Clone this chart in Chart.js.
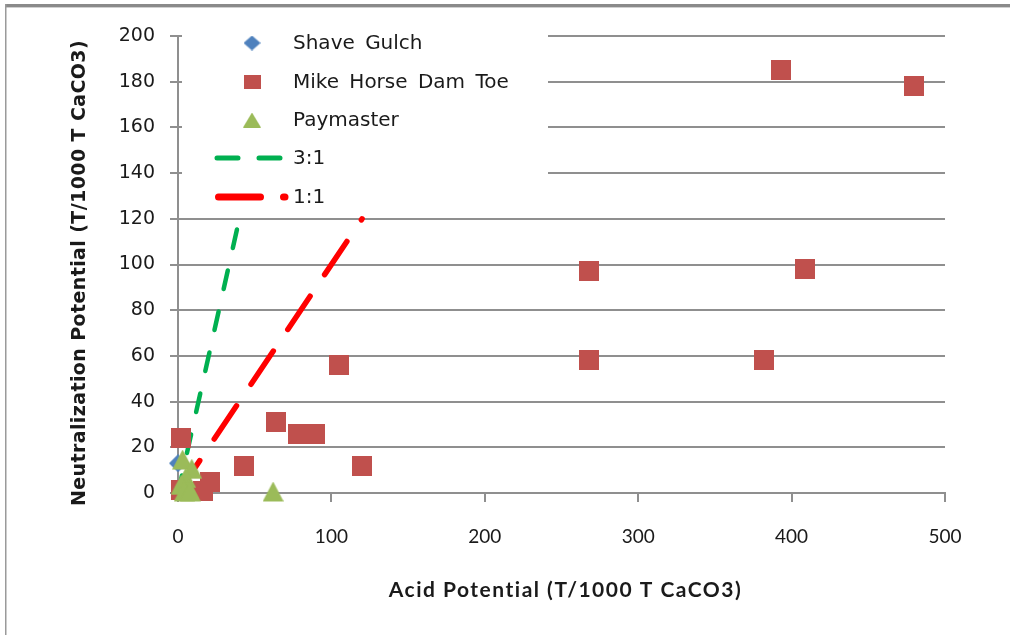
<!DOCTYPE html>
<html>
<head>
<meta charset="utf-8">
<script src="https://cdn.jsdelivr.net/npm/chart.js@4.4.1/dist/chart.umd.min.js"></script>
<style>
  html, body { margin: 0; padding: 0; background: #ffffff; }
  #wrap { position: relative; width: 1010px; height: 635px; }
  canvas { display: block; }
</style>
</head>
<body>
<div id="wrap"><canvas id="chart" width="1010" height="635"></canvas></div>
<script>
// Acid potential (AP) vs neutralization potential (NP), T/1000 T CaCO3
const seriesNames = ['Shave Gulch', 'Mike Horse Dam Toe', 'Paymaster', '3:1', '1:1'];

const shaveGulchAP = [0, 2, 5];
const shaveGulchNP = [13, 3, 1];

const mikeHorseAP = [393, 480, 268, 409, 268, 382, 105, 64, 78, 89, 43, 120, 2, 21, 16, 2];
const mikeHorseNP = [185, 178, 97, 98, 58, 58, 56, 31, 26, 26, 12, 12, 24, 5, 1, 1.5];

const paymasterAP = [3, 9, 5, 2, 7, 4, 8, 62];
const paymasterNP = [14, 10, 6, 3, 1, 0, 0, 0];

// NP:AP reference ratios
const ratio31AP = [0, 40];
const ratio31NP = [0, 120];
const ratio11AP = [0, 120];
const ratio11NP = [0, 120];

const xTickValues = [0, 100, 200, 300, 400, 500];
const yTickValues = [0, 20, 40, 60, 80, 100, 120, 140, 160, 180, 200];

const xTitle = 'Acid Potential (T/1000 T CaCO3)';
const yTitle = 'Neutralization Potential (T/1000 T CaCO3)';

const COLORS = {
  shave: '#4F81BD',
  mike: '#C0504D',
  pay: '#9BBB59',
  r31: '#00B050',
  r11: '#FF0000',
  grid: '#8f8f8f',
  text: '#1a1a1a'
};

function pairs(xs, ys) { return xs.map((x, i) => ({ x: x, y: ys[i] })); }

// marker sprites
function makeSprite(w, h, draw) {
  const c = document.createElement('canvas');
  c.width = w; c.height = h;
  draw(c.getContext('2d'), w, h);
  return c;
}
function triangleSprite(w, triH, totalH, color) {
  return makeSprite(w, totalH, (g) => {
    g.fillStyle = color;
    g.beginPath();
    g.moveTo(w / 2, 0); g.lineTo(w, triH); g.lineTo(0, triH); g.closePath();
    g.fill();
  });
}
function squareSprite(w, h, color) {
  return makeSprite(w, h, (g) => { g.fillStyle = color; g.fillRect(0, 0, w, h); });
}
function diamondSprite(w, h, color) {
  return makeSprite(w, h, (g) => {
    g.fillStyle = color;
    g.beginPath();
    g.moveTo(w / 2, 0); g.lineTo(w, h / 2); g.lineTo(w / 2, h); g.lineTo(0, h / 2); g.closePath();
    g.fill();
  });
}

const diamondPt = diamondSprite(18, 18, COLORS.shave);
const squarePt = squareSprite(20, 20, COLORS.mike);
const trianglePt = triangleSprite(21, 20, 23, COLORS.pay);

// page frame + white background
const framePlugin = {
  id: 'frame',
  beforeDraw(chart) {
    const ctx = chart.ctx;
    ctx.save();
    ctx.fillStyle = '#ffffff';
    ctx.fillRect(0, 0, chart.width, chart.height);
    ctx.fillStyle = '#8a8a8a';
    ctx.fillRect(5, 4, chart.width - 5, 3);
    ctx.fillStyle = '#d0d0d0';
    ctx.fillRect(5, 7, chart.width - 5, 1);
    ctx.fillStyle = '#9a9a9a';
    ctx.fillRect(5, 4, 1.5, chart.height - 4);
    ctx.restore();
  }
};

// axis titles
const titlesPlugin = {
  id: 'axisTitles',
  afterDraw(chart) {
    const ctx = chart.ctx;
    const area = chart.chartArea;
    ctx.save();
    ctx.fillStyle = COLORS.text;
    ctx.textAlign = 'center';
    ctx.textBaseline = 'middle';
    ctx.font = 'bold 21px Lato, "Liberation Sans", sans-serif';
    ctx.letterSpacing = '1.5px';
    ctx.fillText(xTitle, (area.left + area.right) / 2 + 4, 590);
    ctx.translate(80, 273);
    ctx.rotate(-Math.PI / 2);
    ctx.font = 'bold 19px "DejaVu Sans", sans-serif';
    ctx.letterSpacing = '0.4px';
    ctx.fillText(yTitle, 0, 0);
    ctx.restore();
  }
};

// legend box with markers and line samples
const legendPlugin = {
  id: 'sheetLegend',
  afterDraw(chart) {
    const ctx = chart.ctx;
    ctx.save();
    ctx.fillStyle = '#ffffff';
    ctx.fillRect(182, 22, 366, 190);
    const rowY = [43, 82, 120, 158, 197];
    const textX = 293;
    ctx.drawImage(diamondSprite(17, 15, COLORS.shave), 252 - 8.5, rowY[0] - 7.5);
    ctx.drawImage(squareSprite(17, 14, COLORS.mike), 252 - 8.5, rowY[1] - 7);
    ctx.drawImage(triangleSprite(18, 15, 15, COLORS.pay), 252 - 9, rowY[2] - 7.5);

    ctx.lineCap = 'round';
    ctx.strokeStyle = COLORS.r31;
    ctx.lineWidth = 5;
    ctx.setLineDash([21, 21]);
    ctx.beginPath(); ctx.moveTo(217, rowY[3]); ctx.lineTo(280, rowY[3]); ctx.stroke();

    ctx.strokeStyle = COLORS.r11;
    ctx.lineWidth = 7;
    ctx.setLineDash([42, 23]);
    ctx.beginPath(); ctx.moveTo(218.5, rowY[4]); ctx.lineTo(285, rowY[4]); ctx.stroke();
    ctx.setLineDash([]);

    ctx.fillStyle = COLORS.text;
    ctx.font = '20px "DejaVu Sans", sans-serif';
    ctx.wordSpacing = '4px';
    ctx.textAlign = 'left';
    ctx.textBaseline = 'middle';
    seriesNames.forEach((name, i) => ctx.fillText(name, textX, rowY[i] + 1));
    ctx.restore();
  }
};

const ctx = document.getElementById('chart').getContext('2d');
new Chart(ctx, {
  type: 'scatter',
  data: {
    datasets: [
      {
        label: seriesNames[0],
        data: pairs(shaveGulchAP, shaveGulchNP),
        pointStyle: diamondPt,
        backgroundColor: COLORS.shave,
        borderColor: COLORS.shave,
        clip: false,
        order: 5
      },
      {
        label: seriesNames[1],
        data: pairs(mikeHorseAP, mikeHorseNP),
        pointStyle: squarePt,
        backgroundColor: COLORS.mike,
        borderColor: COLORS.mike,
        clip: false,
        order: 4
      },
      {
        label: seriesNames[2],
        data: pairs(paymasterAP, paymasterNP),
        pointStyle: trianglePt,
        backgroundColor: COLORS.pay,
        borderColor: COLORS.pay,
        clip: false,
        order: 3
      },
      {
        label: seriesNames[3],
        data: pairs(ratio31AP, ratio31NP),
        showLine: true,
        borderColor: COLORS.r31,
        borderWidth: 4.5,
        borderDash: [19, 23],
        borderDashOffset: 1,
        borderCapStyle: 'round',
        pointRadius: 0,
        clip: false,
        order: 6
      },
      {
        label: seriesNames[4],
        data: pairs(ratio11AP, ratio11NP),
        showLine: true,
        borderColor: COLORS.r11,
        borderWidth: 5.5,
        borderDash: [40, 26],
        borderDashOffset: 1,
        borderCapStyle: 'round',
        pointRadius: 0,
        clip: false,
        order: 7
      }
    ]
  },
  options: {
    responsive: false,
    animation: false,
    events: [],
    layout: { padding: { left: 0, right: 65, top: 36, bottom: 0 } },
    plugins: {
      legend: { display: false },
      tooltip: { enabled: false },
      title: { display: false }
    },
    scales: {
      x: {
        type: 'linear',
        position: 'bottom',
        min: 0,
        max: 500,
        afterBuildTicks: (s) => { s.ticks = xTickValues.map(v => ({ value: v })); },
        afterFit: (s) => { s.height = 142; },
        grid: { drawOnChartArea: false, drawTicks: true, tickLength: 9, color: COLORS.grid, lineWidth: 2 },
        border: { display: true, color: COLORS.grid, width: 2 },
        ticks: {
          color: COLORS.text,
          padding: 23,
          maxRotation: 0,
          autoSkip: false,
          font: { family: 'Lato, "Liberation Sans", sans-serif', size: 19 }
        }
      },
      y: {
        type: 'linear',
        position: 'left',
        min: 0,
        max: 200,
        afterBuildTicks: (s) => { s.ticks = yTickValues.map(v => ({ value: v })); },
        afterFit: (s) => { s.width = 178; },
        grid: { drawOnChartArea: true, drawTicks: true, tickLength: 8, color: COLORS.grid, lineWidth: 2 },
        border: { display: true, color: COLORS.grid, width: 2 },
        ticks: {
          color: COLORS.text,
          padding: 15,
          autoSkip: false,
          font: { family: '"DejaVu Sans", sans-serif', size: 19 }
        }
      }
    }
  },
  plugins: [framePlugin, titlesPlugin, legendPlugin]
});
</script>
</body>
</html>
